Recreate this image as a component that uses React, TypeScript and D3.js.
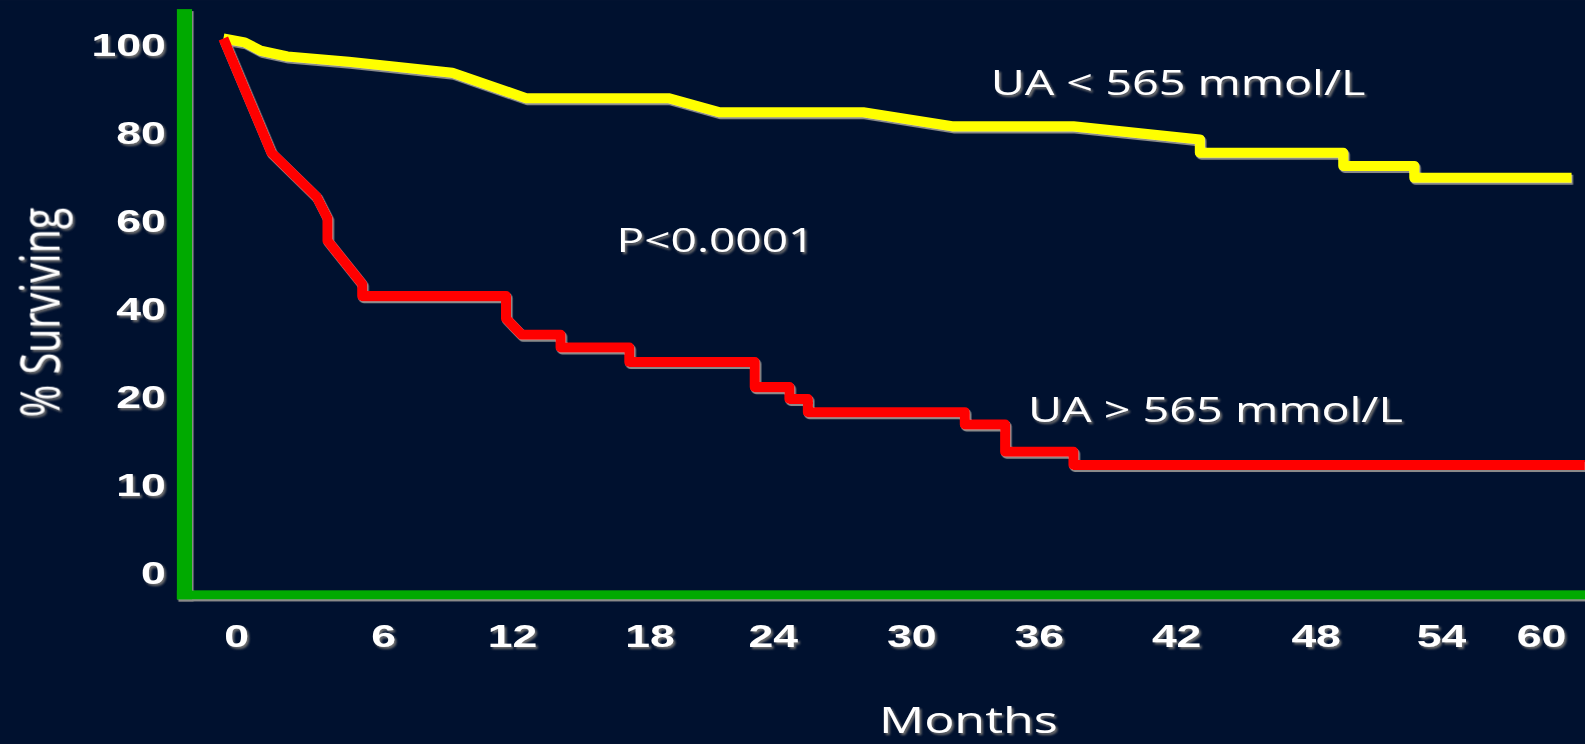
import React from "react";
import * as d3 from "d3";

// Axis ticks (as printed on the slide)
const xTicks = [0, 6, 12, 18, 24, 30, 36, 42, 48, 54, 60];
const yTicks = [0, 10, 20, 40, 60, 80, 100];

// UA < 565 mmol/L (yellow)
const lowUaMonths = [0, 0.8, 1.4, 2.4, 4.7, 9.2, 12.6, 18.9, 21.4, 27.9, 31.9, 37.5, 43.0, 43.0, 49.3, 49.3, 52.7, 52.7, 61.8];
const lowUaPct = [100, 99.1, 97.2, 95.9, 94.7, 92.2, 86.4, 86.4, 83.2, 83.2, 80, 80, 77, 74, 74, 71, 71, 68.3, 68.3];

// UA > 565 mmol/L (red)
const highUaMonths = [0, 1.8, 3.5, 3.9, 3.9, 5.2, 5.2, 11.7, 11.7, 12.4, 14.1, 14.1, 17.1, 17.1, 23.1, 23.1, 24.7, 24.7, 25.5, 25.5, 32.5, 32.5, 34.4, 34.4, 37.5, 37.5, 62.6];
const highUaPct = [100, 74, 63.9, 59.1, 54, 44.1, 41.4, 41.4, 36.3, 32.6, 32.6, 29.7, 29.7, 26.4, 26.4, 20.7, 20.7, 19, 19, 17.5, 17.5, 16.1, 16.1, 13, 13, 11.5, 11.5];

const seriesLabels = ["UA < 565 mmol/L", "UA > 565 mmol/L"];
const pValueLabel = "P<0.0001";
const xTitle = "Months";
const yTitle = "% Surviving";

const BG = "#00112f";
const GREEN = "#00aa00";
const FONT = "'Open Sans', 'Noto Sans', sans-serif";
const TICKFONT = "'Liberation Sans', Arial, sans-serif";
const SX = 1.38;
const TSX = 1.42;

export default function App() {
  const W = 1568;
  const H = 736;
  const x = d3
    .scaleLinear()
    .domain(xTicks)
    .range([221, 379.5, 507, 643, 765, 902, 1028, 1164, 1302, 1426, 1525]);
  const y = d3.scaleLinear().domain(yTicks).range([560, 473, 386, 299, 212, 125, 38]);

  const line = d3
    .line<[number, number]>()
    .x((d) => x(d[0]))
    .y((d) => y(d[1]));

  const low: [number, number][] = lowUaMonths.map((m, i) => [m, lowUaPct[i]]);
  const high: [number, number][] = highUaMonths.map((m, i) => [m, highUaPct[i]]);

  const axisLeft = 175;
  const axisBottom = 593;

  return (
    <svg
      width={1585}
      height={744}
      viewBox={`0 0 ${W} ${H}`}
      style={{ position: "absolute", left: 0, top: 0, display: "block" }}
    >
      <defs>
        <filter id="tshadow" x="-20%" y="-20%" width="150%" height="160%">
          <feDropShadow dx="2" dy="2" stdDeviation="0.8" floodColor="#707070" floodOpacity="1" />
        </filter>
        <filter id="lshadow" x="-5%" y="-5%" width="110%" height="120%">
          <feDropShadow dx="1.5" dy="2" stdDeviation="0.6" floodColor="#8a8a8a" floodOpacity="1" />
        </filter>
      </defs>
      <rect x={0} y={0} width={W} height={H} fill={BG} />

      {/* axes */}
      <g filter="url(#lshadow)">
        <rect x={axisLeft} y={9} width={15} height={axisBottom - 9} fill={GREEN} />
        <rect x={axisLeft} y={axisBottom - 9} width={W - axisLeft} height={9} fill={GREEN} />
      </g>

      {/* y tick labels */}
      <g filter="url(#tshadow)" fill="#ffffff" fontFamily={TICKFONT} fontWeight="bold" fontSize={31}>
        {yTicks.map((t) => (
          <text key={t} transform={`translate(164,${y(t) + 17.5}) scale(${TSX},1)`} textAnchor="end">
            {t}
          </text>
        ))}
      </g>

      {/* x tick labels */}
      <g filter="url(#tshadow)" fill="#ffffff" fontFamily={TICKFONT} fontWeight="bold" fontSize={31}>
        {xTicks.map((t) => (
          <text key={t} transform={`translate(${x(t) + (t === 0 ? 13 : 0)},640) scale(${TSX},1)`} textAnchor="middle">
            {t}
          </text>
        ))}
      </g>

      {/* curves */}
      <g filter="url(#lshadow)" fill="none" strokeWidth={10} strokeLinejoin="round" strokeLinecap="butt">
        <path d={line(low) || ""} stroke="#ffff00" />
        <path d={line(high) || ""} stroke="#ff0000" />
      </g>

      {/* annotations */}
      <g filter="url(#tshadow)" fill="#ffffff" fontFamily={FONT}>
        <text transform={`translate(980,94) scale(${SX},1)`} fontSize={33.5}>
          {seriesLabels[0]}
        </text>
        <text transform={`translate(1017,417) scale(${SX},1)`} fontSize={33.5}>
          {seriesLabels[1]}
        </text>
        <text transform={`translate(610,249) scale(${SX},1)`} fontSize={33}>
          {pValueLabel}
        </text>
        <text transform={`translate(958,725) scale(${SX},1)`} fontSize={36} textAnchor="middle">
          {xTitle}
        </text>
        <text transform={`translate(59,309) scale(${SX},1) rotate(-90)`} fontSize={39} textAnchor="middle">
          {yTitle}
        </text>
      </g>
    </svg>
  );
}
